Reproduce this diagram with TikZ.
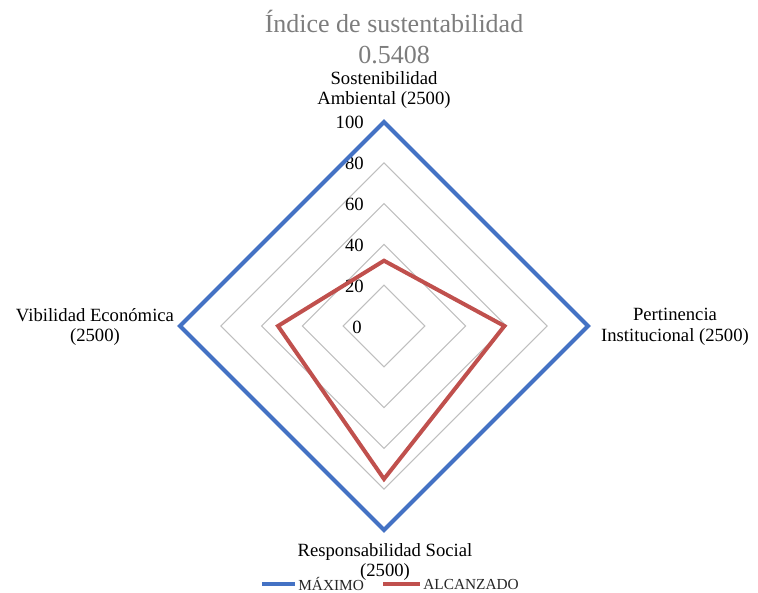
\documentclass[tikz,border=0pt]{standalone}
\usepackage{fontspec}
\setmainfont{Liberation Serif}
\usetikzlibrary{positioning}
\definecolor{maxblue}{RGB}{68,114,196}
\definecolor{alcred}{RGB}{192,80,77}
\definecolor{ringgray}{RGB}{191,191,191}
\definecolor{titlegray}{RGB}{125,125,125}

\begin{document}
\begin{tikzpicture}[x=0.75pt,y=-0.75pt,
  axislbl/.style={align=center, inner sep=0pt, font=\fontsize{14}{15.5}\selectfont},
  ticklbl/.style={anchor=east, inner sep=0pt, font=\fontsize{14}{15}\selectfont},
  ring/.style={draw=ringgray, line width=0.8pt},
  titlelbl/.style={anchor=base, inner sep=0pt, text=titlegray, font=\fontsize{19.5}{22}\selectfont},
  legendlbl/.style={anchor=west, inner sep=1pt, text=black!85, font=\fontsize{11.5}{12}\selectfont}]
\useasboundingbox (0,0) rectangle (758,593);
% title
\node[titlelbl] (title) at (394,32) {Índice de sustentabilidad};
\node[titlelbl] (value) at (394,63) {0.5408};
% grid
\draw[ring] (384,285.2) -- (424.8,326) -- (384,366.8) -- (343.2,326) -- cycle;
\draw[ring] (384,244.4) -- (465.6,326) -- (384,407.6) -- (302.4,326) -- cycle;
\draw[ring] (384,203.6) -- (506.4,326) -- (384,448.4) -- (261.6,326) -- cycle;
\draw[ring] (384,162.8) -- (547.2,326) -- (384,489.2) -- (220.8,326) -- cycle;
% tick labels
\node[ticklbl] (t100) at (364,122) {100};
\node[ticklbl] (t80) at (364,163) {80};
\node[ticklbl] (t60) at (364,204) {60};
\node[ticklbl] (t40) at (364,245) {40};
\node[ticklbl] (t20) at (364,286) {20};
\node[ticklbl] (t0) at (362,327) {0};
% series
\draw[maxblue, line width=3pt, line join=miter] (384,122) -- (588,326) -- (384,530) -- (180,326) -- cycle;
\draw[alcred, line width=3pt, line join=miter] (384,260.7) -- (504.4,326) -- (384,479) -- (278,326) -- cycle;
% axis labels
\node[axislbl] (amb) at (384,90) {Sostenibilidad\\Ambiental (2500)};
\node[axislbl] (inst) at (675,327) {Pertinencia\\Institucional (2500)};
\node[axislbl] (soc) at (385,562) {Responsabilidad Social\\(2500)};
\node[axislbl] (eco) at (95,327) {Vibilidad Económica\\(2500)};
% legend
\draw[maxblue, line width=3pt] (262,584) -- (295,584) node[legendlbl] (maxlbl) {MÁXIMO};
\draw[alcred, line width=3pt] (383,584) -- (420,584) node[legendlbl] (alclbl) {ALCANZADO};
\end{tikzpicture}
\end{document}
